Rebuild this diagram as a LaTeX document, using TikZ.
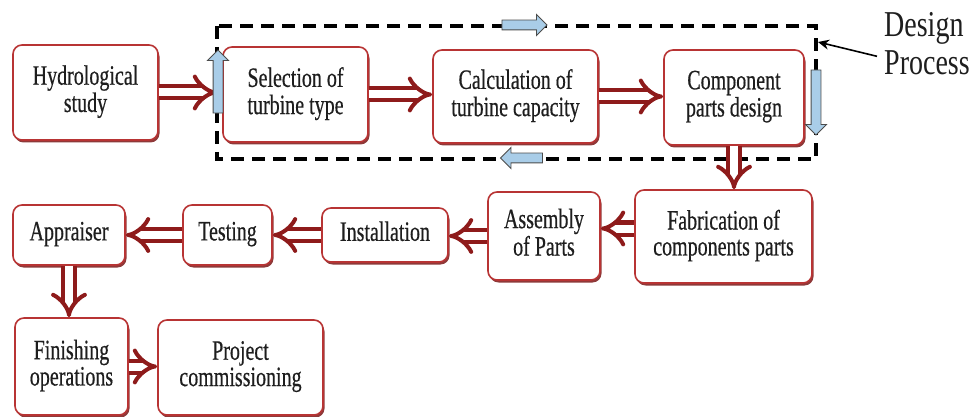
\documentclass[tikz,border=0pt]{standalone}
\usepackage{graphicx}
\usepackage{fontspec}
\setmainfont{Liberation Serif}
\newfontfamily\boxfont[FakeBold=0.6]{Liberation Serif}
\usetikzlibrary{arrows.meta,shapes.arrows,shadows}
\definecolor{boxred}{HTML}{B83434}
\definecolor{shadred}{HTML}{7A1616}
\definecolor{arrred}{HTML}{8E1B1B}
\definecolor{bluefill}{HTML}{A9CDE8}
\definecolor{txt}{HTML}{1E1E1E}
\newcommand{\stx}[1]{\scalebox{1}[1.4]{\begin{tabular}{@{}c@{}}#1\end{tabular}}}
\newcommand{\sdp}[1]{\scalebox{1}[1.3]{\begin{tabular}[t]{@{}l@{}}#1\end{tabular}}}
\begin{document}
\begin{tikzpicture}[x=1pt,y=-1pt,
  box/.style={draw=boxred, line width=1.6pt, rounded corners=9pt, fill=white,
    font=\boxfont\fontsize{20}{18.5}\selectfont, text=txt, inner sep=0pt,
    drop shadow={shadow xshift=1.5pt, shadow yshift=-2.5pt, fill=shadred, opacity=0.85}},
  flow/.style={draw=arrred, line width=4pt, double=white, double distance=8pt, -{Implies}},
  bluearrow/.style={single arrow, draw=black!70, fill=bluefill, line width=0.9pt,
    inner sep=4.5pt, minimum width=20pt, single arrow head extend=5.5pt},
  dashbox/.style={draw=black, line width=3.4pt, dash pattern=on 13pt off 8pt},
  dparrow/.style={draw=black, line width=1.6pt, -{Stealth[length=11pt,width=10pt]}}]
\useasboundingbox (0,0) rectangle (978,417);

% design process frame
\coordinate (fa) at (217,26);
\coordinate (fb) at (816,159);
\draw[dashbox] (fa) rectangle (fb);

% boxes
\node[box, minimum width=145pt, minimum height=95pt] (hydro) at (85.5,92.5) {\stx{Hydrological\\study}};
\node[box, minimum width=145pt, minimum height=95pt] (sel) at (295.5,94.5) {\stx{Selection of\\turbine type}};
\node[box, minimum width=165pt, minimum height=93pt] (calc) at (515.5,96.5) {\stx{Calculation of\\turbine capacity}};
\node[box, minimum width=140pt, minimum height=95pt] (comp) at (734,97.5) {\stx{Component\\parts design}};
\node[box, minimum width=177pt, minimum height=93pt] (fab) at (723.5,236.5) {\stx{Fabrication of\\components parts}};
\node[box, minimum width=112pt, minimum height=88pt] (asm) at (544,236) {\stx{Assembly\\of Parts}};
\node[box, minimum width=126pt, minimum height=54pt] (inst) at (385,235) {\stx{Installation}};
\node[box, minimum width=89pt, minimum height=60pt] (test) at (227.5,235) {\stx{Testing}};
\node[box, minimum width=112pt, minimum height=60pt] (appr) at (69,235) {\stx{Appraiser}};
\node[box, minimum width=113pt, minimum height=97pt] (fin) at (71.5,366.5) {\stx{Finishing\\operations}};
\node[box, minimum width=165pt, minimum height=95pt] (proj) at (240.5,367.5) {\stx{Project\\commissioning}};

% flow arrows
\draw[flow, shorten >=5pt] (hydro.east) -- (hydro.east -| sel.west);
\draw[flow] (sel.east) -- (sel.east -| calc.west);
\draw[flow] (calc.east) -- (calc.east -| comp.west);
\draw[flow] (comp.south) -- (comp.south |- fab.north);
\draw[flow] ([yshift=8pt]fab.west) -- ([yshift=8pt]fab.west -| asm.east);
\draw[flow] (asm.west) -- (asm.west -| inst.east);
\draw[flow] (inst.west) -- (inst.west -| test.east);
\draw[flow] (test.west) -- (test.west -| appr.east);
\draw[flow] (appr.south) -- (appr.south |- fin.north);
\draw[flow] (fin.east) -- (fin.east -| proj.west);

% blue circulation arrows
\node[bluearrow, minimum height=63pt, rotate=90] (bl) at (218,84) {};
\node[bluearrow, minimum height=45pt] (bt) at (522,25) {};
\node[bluearrow, minimum height=65pt, rotate=-90] (br) at (816,100) {};
\node[bluearrow, minimum height=42pt, rotate=180] (bb) at (524,158) {};

% label
\node[anchor=base west, inner sep=0pt, font=\fontsize{28}{29}\selectfont, text=txt] (dp) at (884,37) {\sdp{Design\\Process}};
\coordinate (dptip) at (818,42);
\draw[dparrow] ([xshift=-7pt,yshift=-8pt]dp.west) -- (dptip);
\end{tikzpicture}
\end{document}
